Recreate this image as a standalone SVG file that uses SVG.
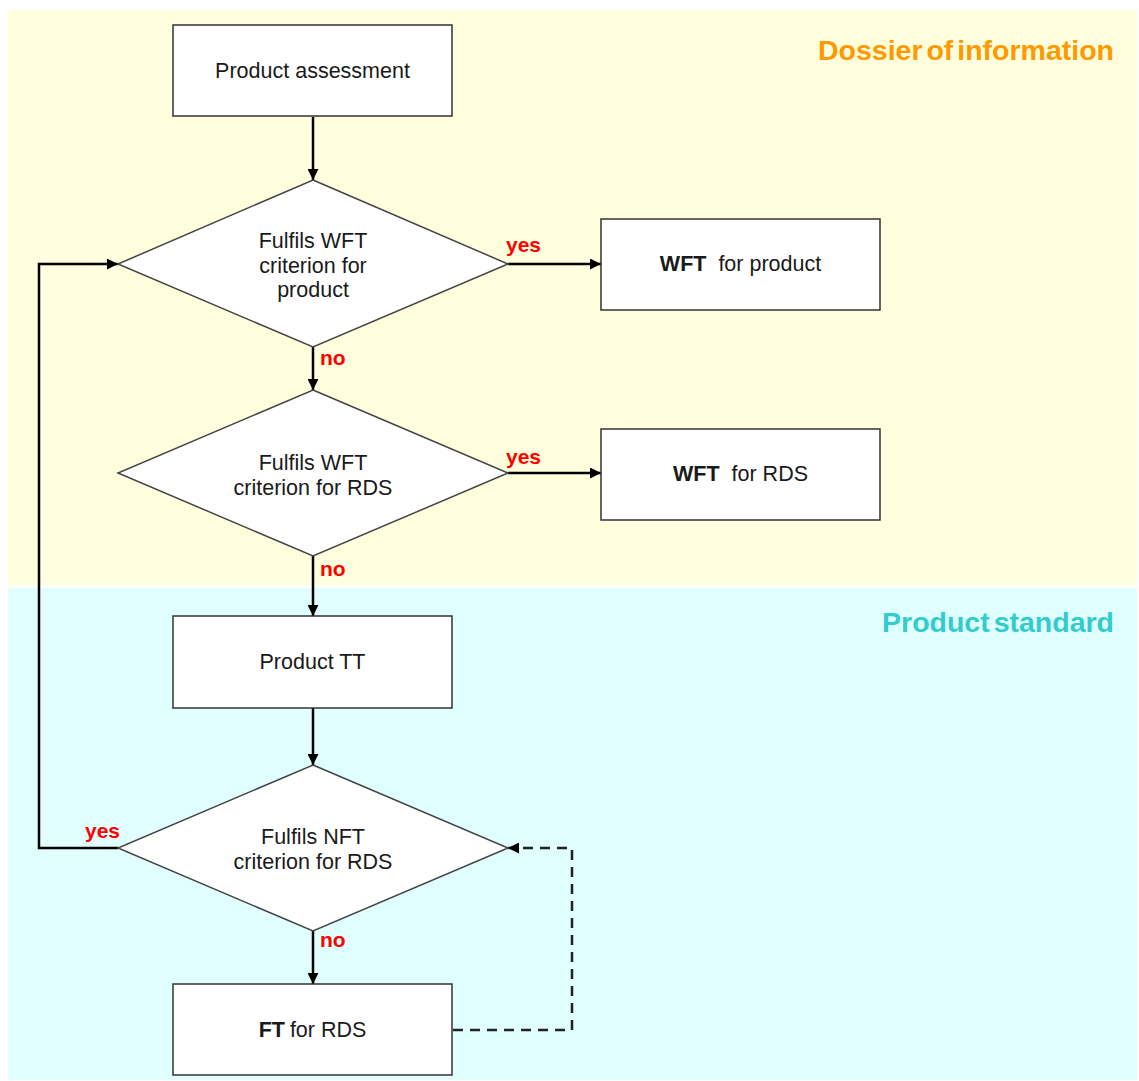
<svg xmlns="http://www.w3.org/2000/svg" width="1139" height="1081" viewBox="0 0 1139 1081">
  <style>
    .box { fill: #ffffff; stroke: #333333; stroke-width: 1.5; }
    .dia { fill: #ffffff; stroke: #444444; stroke-width: 1.5; }
    .txt { font-family: "Liberation Sans", Arial, sans-serif; font-size: 21.5px; fill: #1a1a1a; text-anchor: middle; }
    .b { font-weight: bold; }
    .lbl { font-family: "Liberation Sans", Arial, sans-serif; font-size: 21px; font-weight: bold; fill: #ff0000; }
    .zone { font-family: "Liberation Sans", Arial, sans-serif; font-size: 28.5px; font-weight: bold; text-anchor: end; word-spacing: -4px; }
    .conn { fill: none; stroke: #000000; stroke-width: 2.5; }
    .dash { fill: none; stroke: #222222; stroke-width: 2.5; stroke-dasharray: 10 7; }
  </style>
  <defs>
    <marker id="arrow" viewBox="0 0 10 10" refX="10" refY="5" markerWidth="4.4" markerHeight="4.4" markerUnits="strokeWidth" orient="auto">
      <path d="M0,0 L10,5 L0,10 Z" fill="#000000"/>
    </marker>
  </defs>

  <rect x="0" y="0" width="1139" height="1081" fill="#ffffff"/>

  <!-- swimlane backgrounds -->
  <g id="zones">
    <rect x="8" y="10" width="1129" height="575" fill="#ffffdd"/>
    <rect x="8" y="588" width="1129" height="492" fill="#e0ffff"/>
    <text class="zone" x="1114" y="60" fill="#ff9900">Dossier of information</text>
    <text class="zone" x="1114" y="632" fill="#33cccc">Product standard</text>
  </g>

  <!-- connectors -->
  <g id="connectors">
    <path class="conn" d="M313,117 V180" marker-end="url(#arrow)"/>
    <path class="conn" d="M508,264 H601" marker-end="url(#arrow)"/>
    <path class="conn" d="M313,347 V390" marker-end="url(#arrow)"/>
    <path class="conn" d="M508,473 H601" marker-end="url(#arrow)"/>
    <path class="conn" d="M313,556 V616" marker-end="url(#arrow)"/>
    <path class="conn" d="M313,708 V765" marker-end="url(#arrow)"/>
    <path class="conn" d="M313,931 V984" marker-end="url(#arrow)"/>
    <path class="conn" d="M118,848 H39 V264 H118" marker-end="url(#arrow)"/>
    <path class="dash" d="M453,1030 H572 V848 H508" marker-end="url(#arrow)"/>
    <text class="lbl" x="506" y="252">yes</text>
    <text class="lbl" x="320" y="365">no</text>
    <text class="lbl" x="506" y="464">yes</text>
    <text class="lbl" x="320" y="576">no</text>
    <text class="lbl" x="85" y="838">yes</text>
    <text class="lbl" x="320" y="947">no</text>
  </g>

  <g id="product-assessment">
    <rect class="box" x="173" y="25" width="279" height="91"/>
    <text class="txt" x="312.5" y="78">Product assessment</text>
  </g>

  <g id="wft-product-check">
    <polygon class="dia" points="313,180 508,264 313,347 118,264"/>
    <text class="txt" x="313" y="248">Fulfils WFT</text>
    <text class="txt" x="313" y="273">criterion for</text>
    <text class="txt" x="313" y="297">product</text>
  </g>

  <g id="wft-product">
    <rect class="box" x="601" y="219" width="279" height="91"/>
    <text class="txt" x="740.5" y="271"><tspan class="b">WFT</tspan><tspan dx="6"> for product</tspan></text>
  </g>

  <g id="wft-rds-check">
    <polygon class="dia" points="313,390 508,473 313,556 118,473"/>
    <text class="txt" x="313" y="470">Fulfils WFT</text>
    <text class="txt" x="313" y="495">criterion for RDS</text>
  </g>

  <g id="wft-rds">
    <rect class="box" x="601" y="429" width="279" height="91"/>
    <text class="txt" x="740.5" y="481"><tspan class="b">WFT</tspan><tspan dx="6"> for RDS</tspan></text>
  </g>

  <g id="product-tt">
    <rect class="box" x="173" y="616" width="279" height="92"/>
    <text class="txt" x="312.5" y="669">Product TT</text>
  </g>

  <g id="nft-rds-check">
    <polygon class="dia" points="313,765 508,848 313,931 118,848"/>
    <text class="txt" x="313" y="844">Fulfils NFT</text>
    <text class="txt" x="313" y="869">criterion for RDS</text>
  </g>

  <g id="ft-rds">
    <rect class="box" x="173" y="984" width="279" height="91"/>
    <text class="txt" x="312.5" y="1037"><tspan class="b">FT</tspan><tspan dx="-1"> for RDS</tspan></text>
  </g>
</svg>
